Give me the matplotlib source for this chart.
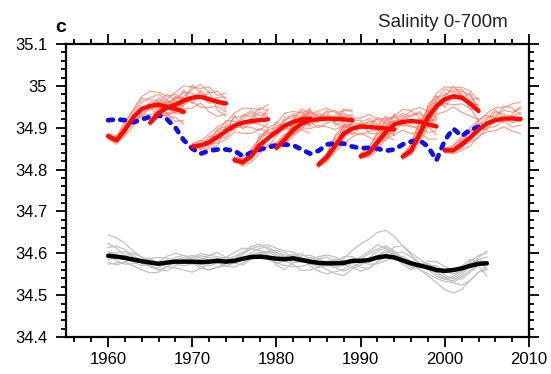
import numpy as np
import matplotlib
matplotlib.use("Agg")
import matplotlib.pyplot as plt
from matplotlib.ticker import MultipleLocator

plt.rcParams['font.family'] = ['Liberation Sans', 'DejaVu Sans']

# ---------------- data ----------------
obs_years = list(range(1960, 2005))
obs_sal = [34.918, 34.920, 34.918, 34.913, 34.920, 34.926, 34.930, 34.920, 34.900, 34.870,
           34.850, 34.838, 34.845, 34.848, 34.848, 34.845, 34.832, 34.840, 34.848, 34.853,
           34.858, 34.860, 34.858, 34.848, 34.838, 34.845, 34.860, 34.863, 34.862, 34.855,
           34.851, 34.852, 34.850, 34.845, 34.848, 34.860, 34.867, 34.870, 34.855, 34.822,
           34.870, 34.898, 34.880, 34.895, 34.902]

hindcast_starts = [1960, 1965, 1970, 1975, 1980, 1985, 1990, 1995, 2000]
hindcast_mean_1960 = [34.880, 34.870, 34.895, 34.925, 34.945, 34.952, 34.955, 34.950, 34.945, 34.938]
hindcast_mean_1965 = [34.912, 34.935, 34.948, 34.955, 34.965, 34.972, 34.974, 34.968, 34.962, 34.958]
hindcast_mean_1970 = [34.855, 34.858, 34.865, 34.878, 34.892, 34.905, 34.912, 34.916, 34.918, 34.920]
hindcast_mean_1975 = [34.823, 34.818, 34.832, 34.858, 34.875, 34.890, 34.905, 34.914, 34.920, 34.922]
hindcast_mean_1980 = [34.852, 34.872, 34.895, 34.910, 34.918, 34.920, 34.922, 34.921, 34.920, 34.918]
hindcast_mean_1985 = [34.812, 34.830, 34.858, 34.886, 34.898, 34.903, 34.902, 34.900, 34.898, 34.896]
hindcast_mean_1990 = [34.832, 34.840, 34.865, 34.890, 34.908, 34.914, 34.916, 34.914, 34.908, 34.903]
hindcast_mean_1995 = [34.831, 34.845, 34.885, 34.925, 34.952, 34.968, 34.975, 34.972, 34.958, 34.940]
hindcast_mean_2000 = [34.846, 34.846, 34.860, 34.876, 34.895, 34.910, 34.918, 34.922, 34.922, 34.921]

# ensemble member departures from the hindcast mean (units of 0.001)
members_1960 = [[5, 10, 15, 20, 30, 35, 30, 25, 35, 30],
                [-5, -10, -5, -10, -15, -20, -15, -25, -20, -30],
                [0, 5, -5, 10, 15, 20, 25, 15, 10, 20],
                [-8, -5, -15, -20, -10, -5, -25, -15, -30, -20],
                [3, 0, 10, 5, -5, 10, 5, 30, 20, 10],
                [-2, 8, 20, 15, 25, 15, 10, 5, -5, 0],
                [6, -3, -10, 0, 5, -10, -5, -15, -10, -5],
                [-4, 3, 5, -5, -20, 0, 15, 10, 25, 35]]
members_1965 = [[5, 15, 20, 30, 35, 25, 20, 30, 15, 25],
                [-5, -10, -15, -10, -20, -25, -15, -30, -35, -25],
                [0, 5, 10, -5, 10, 20, 30, 15, 25, 10],
                [-3, -5, -20, -15, -5, -10, -25, -20, -10, -20],
                [8, 0, -5, 15, 20, 10, 0, -10, 5, -15],
                [-6, 10, 5, 20, 0, 30, 10, 5, -5, 0],
                [2, -8, 0, -20, -10, 0, -5, 20, -20, -30],
                [4, 3, 15, 5, 25, -15, 15, 0, 10, 15]]
members_1970 = [[5, 10, 20, 25, 20, 30, 35, 30, 25, 35],
                [-5, -10, -5, -15, -20, -15, -25, -30, -20, -30],
                [0, -5, 10, 15, 5, 20, 15, 25, 10, 15],
                [3, 5, -10, -5, -15, -5, -10, -15, -25, -10],
                [-3, 0, 5, 10, 25, 10, 0, 5, 20, 5],
                [7, 12, 0, 20, 10, -10, 20, 10, 30, 20],
                [-6, -3, 15, 0, -5, 25, -15, -5, -10, -20],
                [2, -8, -15, -20, 15, 0, 10, 20, 0, 25]]
members_1975 = [[4, 12, 18, 15, 25, 20, 30, 25, 15, 20],
                [-5, -8, -15, -20, -15, -25, -20, -30, -25, -35],
                [0, 5, 10, 20, 10, 5, 15, 10, 25, 10],
                [-2, -5, -5, -10, -20, -10, -5, -20, -10, -15],
                [6, 0, 15, 5, -5, 15, 0, -10, 5, 25],
                [-7, 3, -10, 25, 15, -5, 20, 15, -15, 0],
                [2, -10, 5, -15, 0, 25, -10, 5, 20, -20],
                [8, 7, 0, 10, 20, 10, 10, 20, 0, 15]]
members_1980 = [[5, 8, 15, 20, 15, 20, 25, 15, 20, 25],
                [-4, -10, -15, -10, -20, -15, -20, -25, -15, -20],
                [0, 5, -5, 10, 5, 10, -5, 10, 15, 5],
                [-6, 0, 10, -5, -10, -5, 10, -10, -20, -10],
                [3, -5, 5, 15, 20, 5, 15, 20, 5, 15],
                [7, 12, 0, -15, 10, 15, 0, 5, 10, -5],
                [-2, -7, 20, 5, -5, -20, -10, -5, 25, 20],
                [4, 3, -10, 0, 25, 0, 20, -15, -5, 10]]
members_1985 = [[5, 10, 20, 15, 25, 20, 30, 20, 25, 30],
                [-5, -12, -15, -25, -20, -15, -25, -30, -20, -25],
                [0, 5, 5, 10, 15, 5, 10, 20, 10, 15],
                [-3, -5, -10, -5, -10, -20, -10, -5, -15, -10],
                [4, 0, 15, 5, 0, 10, 20, 10, 5, 0],
                [-7, 8, 25, 20, 10, -5, 0, 25, 15, 20],
                [2, -8, 0, -15, 20, 15, -15, -15, -5, 5],
                [7, 3, -5, 25, -15, 0, 15, 5, 30, -15]]
members_1990 = [[5, 15, 20, 25, 20, 30, 25, 35, 30, 35],
                [-5, -10, -20, -15, -25, -20, -30, -25, -35, -30],
                [0, 8, 10, 15, 10, 5, 15, 20, 10, 15],
                [-3, -6, -5, -10, -15, -5, -15, -10, -20, -10],
                [4, 0, 12, 0, 5, 15, 0, 5, 15, 25],
                [-7, 12, 25, 30, 15, 20, 10, 25, 5, 20],
                [2, -3, -15, 5, 25, -10, -10, -20, 25, 0],
                [7, 4, 0, -20, -5, 10, 25, 10, -5, -20]]
members_1995 = [[5, 15, 25, 20, 30, 30, 20, 25, 30, 25],
                [-5, -10, -20, -25, -20, -30, -25, -35, -30, -20],
                [0, 10, 15, 10, 15, 25, 10, 15, 20, 10],
                [-3, -5, -10, -15, -5, -10, -20, -15, -10, -25],
                [4, -2, 5, 25, 10, 5, 25, 5, 0, 15],
                [-7, 20, 30, 15, 20, 10, 15, 20, 10, 30],
                [2, -8, 0, -5, -15, 15, -5, -5, 25, -5],
                [7, 5, -15, 30, 25, -20, 5, 10, -15, 5]]
members_2000 = [[5, 10, 15, 25, 20, 25, 30, 25, 35, 40],
                [-5, -8, -15, -20, -15, -20, -25, -20, -30, -35],
                [0, 5, 10, 15, 10, 15, 10, 20, 15, 25],
                [-3, -5, -5, -10, -20, -10, -15, -5, -20, -15],
                [3, 0, 8, 5, 15, 0, 20, 10, 5, 15],
                [-7, 12, 20, 10, 25, 20, 5, 30, 25, 10],
                [2, -3, -10, 0, 5, -15, 0, -10, 10, 30],
                [7, 4, 0, 20, -5, 10, 25, 0, -10, -5]]

model_years = list(range(1960, 2006))
model_mean = [34.594, 34.592, 34.589, 34.585, 34.581, 34.578, 34.575, 34.578, 34.580, 34.580,
              34.580, 34.579, 34.580, 34.582, 34.580, 34.582, 34.587, 34.591, 34.592, 34.590,
              34.587, 34.586, 34.588, 34.584, 34.580, 34.577, 34.576, 34.576, 34.577, 34.582,
              34.582, 34.584, 34.590, 34.593, 34.590, 34.583, 34.576, 34.571, 34.566, 34.560,
              34.558, 34.560, 34.564, 34.570, 34.575, 34.576]

# model member departures from the model mean (units of 0.001)
model_member_1 = [50, 45, 35, 20, 10, 5, 0, -5, 5, 10, 15, 10, 5, 0, 10, 20, 25, 20, 15, 10, 15, 10, 5,
                  0, -5, -10, -5, 0, 10, 25, 40, 50, 60, 62, 50, 35, 25, 15, 5, -10, -20, -15, -5, 10, 20, 25]
model_member_2 = [20, 25, 20, 10, 0, -10, -15, -10, 0, 5, 0, -10, -20, -15, -5, 5, 15, 20, 15, 5, -15, -25,
                  -10, 0, 10, 5, -5, -10, -5, 0, 5, 15, 20, 25, 15, 5, 0, -10, -20, -30, -45, -55, -50, -35, -20, -15]
model_member_3 = [-15, -20, -10, 0, 5, 10, 0, -10, -15, -20, -25, -15, -5, 5, 10, 5, 0, 10, 20, 25, 15, 5,
                  10, 15, 5, -5, -15, -25, -30, -20, -10, 0, 5, 10, 15, 5, -5, -10, -15, -20, -25, -30, -20, -10, -5, -30]
model_member_4 = [10, 5, 0, -5, -10, -5, 5, 15, 20, 15, 10, 5, 0, -5, -10, -15, -10, 0, 10, 15, 20, 15, 5,
                  -5, 0, 10, 15, 5, -5, -15, -25, -20, -10, 0, 10, 20, 15, 5, -5, -15, -20, -25, -15, 0, 15, 30]
model_member_5 = [0, -10, -15, -10, 0, 10, 15, 10, 5, 0, -5, -15, -20, -15, -10, -5, 0, 5, 0, -5, -10, -5,
                  5, 10, 15, 10, 0, -10, -20, -15, -5, 5, 15, 20, 10, 0, -5, 0, 10, 5, -10, -20, -25, -15, -5, 5]
model_member_6 = [-20, -15, -10, -15, -20, -25, -20, -10, 0, 5, 10, 15, 10, 5, 0, -5, 0, 5, 10, 0, -10, -15,
                  -20, -15, -5, 0, 5, 10, 5, 0, -5, -10, -15, -10, 0, 10, 5, 0, 5, 10, 0, -10, -5, 5, 10, 15]
model_member_7 = [5, 10, 15, 5, -5, -10, -10, 0, 10, 15, 5, -5, -10, -5, 5, 10, 15, 25, 30, 20, 10, 0,
                  -10, -5, 5, 15, 20, 15, 5, -5, -15, -20, -10, 5, 25, 35, 20, 5, -5, -5, -15, -30, -40, -35, -20, -10]
model_member_8 = [30, 20, 5, -5, 0, -5, -15, -20, -10, 0, 10, 20, 15, 10, 5, 0, 10, 20, 25, 30, 25, 20,
                  15, 5, -10, -20, -25, -20, -15, -5, 10, 20, 30, 20, 10, -5, -10, -5, 0, -5, -15, -20, -10, 5, 10, 0]
model_member_9 = [-10, 0, 5, 15, 10, 0, -5, 0, -5, -10, -5, 5, 15, 20, 10, -5, -15, -5, 5, 15, 5, -5,
                  -15, -25, -20, -10, 0, 5, 15, 10, 0, -5, 5, 15, 5, -10, -15, 0, 15, 20, 10, 0, 5, 15, 5, -15]

x_ticks = [1960, 1970, 1980, 1990, 2000, 2010]
y_ticks = [34.4, 34.5, 34.6, 34.7, 34.8, 34.9, 35.0, 35.1]
y_tick_labels = ['34.4', '34.5', '34.6', '34.7', '34.8', '34.9', '35', '35.1']

# ---------------- plot ----------------
fig = plt.figure(figsize=(5.51, 3.74), dpi=100)
ax = fig.add_axes([0.1198, 0.0989, 0.8403, 0.7834])

hc_means = [hindcast_mean_1960, hindcast_mean_1965, hindcast_mean_1970, hindcast_mean_1975,
            hindcast_mean_1980, hindcast_mean_1985, hindcast_mean_1990, hindcast_mean_1995,
            hindcast_mean_2000]
hc_members = [members_1960, members_1965, members_1970, members_1975, members_1980,
              members_1985, members_1990, members_1995, members_2000]

# grey model members
my = np.array(model_years)
mm = np.array(model_mean)
for mem in [model_member_1, model_member_2, model_member_3, model_member_4, model_member_5,
            model_member_6, model_member_7, model_member_8, model_member_9]:
    ax.plot(my, mm + np.array(mem) / 1000.0, color='#c2c2c2', lw=0.9, zorder=2)
ax.plot(my, mm, color='black', lw=3.2, zorder=3, solid_capstyle='round')

# red hindcast members
for start, mean, mems in zip(hindcast_starts, hc_means, hc_members):
    yrs = np.arange(start, start + len(mean))
    for mem in mems:
        ax.plot(yrs, np.array(mean) + np.array(mem) / 1000.0, color='#ff6a55', lw=0.8,
                alpha=0.7, zorder=4)

# observation (blue dashed)
ax.plot(obs_years, obs_sal, color='#1010ee', lw=3.4, zorder=5,
        dashes=(1.0, 1.6), dash_capstyle='round')

# red hindcast means
for start, mean in zip(hindcast_starts, hc_means):
    yrs = np.arange(start, start + len(mean))
    ax.plot(yrs, mean, color='#ff0a00', lw=3.2, zorder=6, solid_capstyle='round')

ax.set_xlim(1955, 2010)
ax.set_ylim(34.4, 35.1)
ax.set_xticks(x_ticks)
ax.set_yticks(y_ticks)
ax.set_yticklabels(y_tick_labels)
ax.xaxis.set_minor_locator(MultipleLocator(2))
ax.yaxis.set_minor_locator(MultipleLocator(0.02))
ax.tick_params(which='both', direction='out', top=True, right=True, width=1.3, color='black')
ax.tick_params(which='major', length=7.5)
ax.tick_params(which='minor', length=3.6)
ax.tick_params(axis='x', which='major', labelsize=12, pad=3)
ax.tick_params(axis='y', which='major', labelsize=12, pad=6)
for sp in ax.spines.values():
    sp.set_linewidth(1.6)

fig.text(0.1, 0.905, 'c', fontsize=14, fontweight='bold', ha='left', va='bottom')
fig.text(0.921, 0.918, 'Salinity 0-700m', fontsize=13.5, ha='right', va='bottom', color='#222222')

fig.savefig('out.png', dpi=100)
